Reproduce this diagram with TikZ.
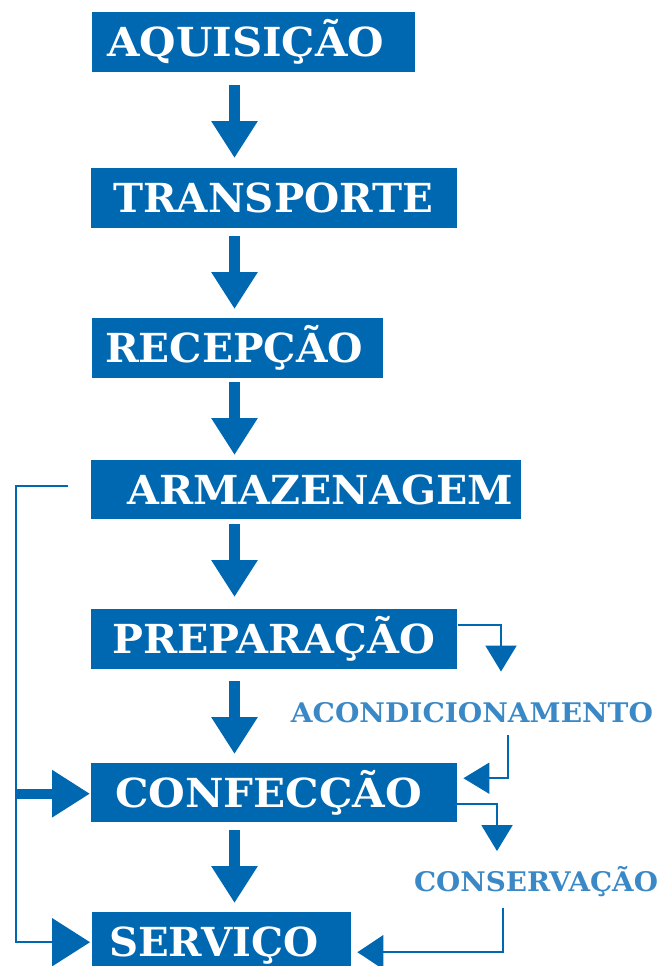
\documentclass[tikz,border=0pt]{standalone}
\usepackage{fontspec}
\setmainfont{DejaVu Serif}
\usepackage{graphicx}
\usetikzlibrary{arrows.meta,calc}
\definecolor{boxblue}{HTML}{0067B1}
\definecolor{lblblue}{HTML}{3A89C6}
\newcommand{\fitw}[2]{\resizebox{#1pt}{\height}{#2}}
\begin{document}
\begin{tikzpicture}[x=1pt,y=-1pt,
 stagebox/.style={fill=boxblue, text=white, inner sep=0pt, anchor=north west,
   minimum height=60pt, font=\fontsize{40}{40}\selectfont\bfseries,
   text height=29pt, text depth=0pt, align=left},
 sidelabel/.style={text=lblblue, inner sep=0pt, font=\fontsize{27}{27}\selectfont\bfseries,
   text height=19.5pt, text depth=0pt},
 flowarrow/.style={draw=boxblue, line width=11pt, -{Triangle[length=37pt,width=44pt]}},
 sidearrow/.style={draw=boxblue, line width=2pt, -{Triangle[length=26pt,width=31pt]}},
 sideline/.style={draw=boxblue, line width=2pt},
]
\useasboundingbox (0,0) rectangle (666,966);

\node[stagebox, text width=323pt] (aq) at (92,12) {\noindent\hspace*{15pt}\fitw{277}{AQUISIÇÃO}};
\node[stagebox, text width=366pt] (tr) at (91,168) {\noindent\hspace*{22pt}\fitw{320}{TRANSPORTE}};
\node[stagebox, text width=291pt] (re) at (92,318) {\noindent\hspace*{13pt}\fitw{258}{RECEPÇÃO}};
\node[stagebox, text width=430pt, minimum height=59pt] (ar) at (91,460) {\noindent\hspace*{36pt}\fitw{386}{ARMAZENAGEM}};
\node[stagebox, text width=366pt] (pr) at (91,609) {\noindent\hspace*{21pt}\fitw{323}{PREPARAÇÃO}};
\node[stagebox, text width=366pt, minimum height=59pt] (co) at (91,763) {\noindent\hspace*{24pt}\fitw{307}{CONFECÇÃO}};
\node[stagebox, text width=259pt] (se) at (92,912) {\noindent\hspace*{17pt}\fitw{209}{SERVIÇO}};

\node[sidelabel] (ac) at (472,712.5) {\fitw{362}{ACONDICIONAMENTO}};
\node[sidelabel] (cs) at (536,882) {\fitw{244}{CONSERVAÇÃO}};

% main flow
\draw[flowarrow] ($(aq.south west)+(142.5,13)$) -- ($(tr.north west)+(143.5,-10)$);
\draw[flowarrow] ($(tr.south west)+(143.5,8)$) -- ($(re.north west)+(142.5,-9)$);
\draw[flowarrow] ($(re.south west)+(142.5,4)$) -- ($(ar.north west)+(143.5,-5)$);
\draw[flowarrow] ($(ar.south west)+(143.5,5)$) -- ($(pr.north west)+(143.5,-12)$);
\draw[flowarrow] ($(pr.south west)+(143.5,12)$) -- ($(co.north west)+(143.5,-9)$);
\draw[flowarrow] ($(co.south west)+(143.5,8)$) -- ($(se.north west)+(142.5,-9)$);

% right branches
\draw[sidearrow] ($(pr.north east)+(1,16)$) -| ($(ac.north)+(29,-31)$);
\draw[sidearrow] ($(ac.south)+(36,13)$) |- ($(co.east)+(6,-14.5)$);
\draw[sidearrow] ($(co.east)+(0,11.5)$) -| ($(cs.north)+(-39,-21)$);
\draw[sideline, -{Triangle[length=26pt,width=34pt]}] ($(cs.south)+(-33,16)$) |- ($(se.east)+(6,10)$);

% left bypass
\coordinate (lb) at ($(ar.west)+(-23,-3.5)$);
\draw[sideline, -{Triangle[length=38pt,width=48pt]}] (lb) -- ++(-52,0) |- ($(se.west)+(-2,0)$);
\draw[draw=boxblue, line width=10pt, -{Triangle[length=38pt,width=45pt]}] ($(co.west)+(-75,1)$) -- ($(co.west)+(-1,1)$);
\end{tikzpicture}
\end{document}
